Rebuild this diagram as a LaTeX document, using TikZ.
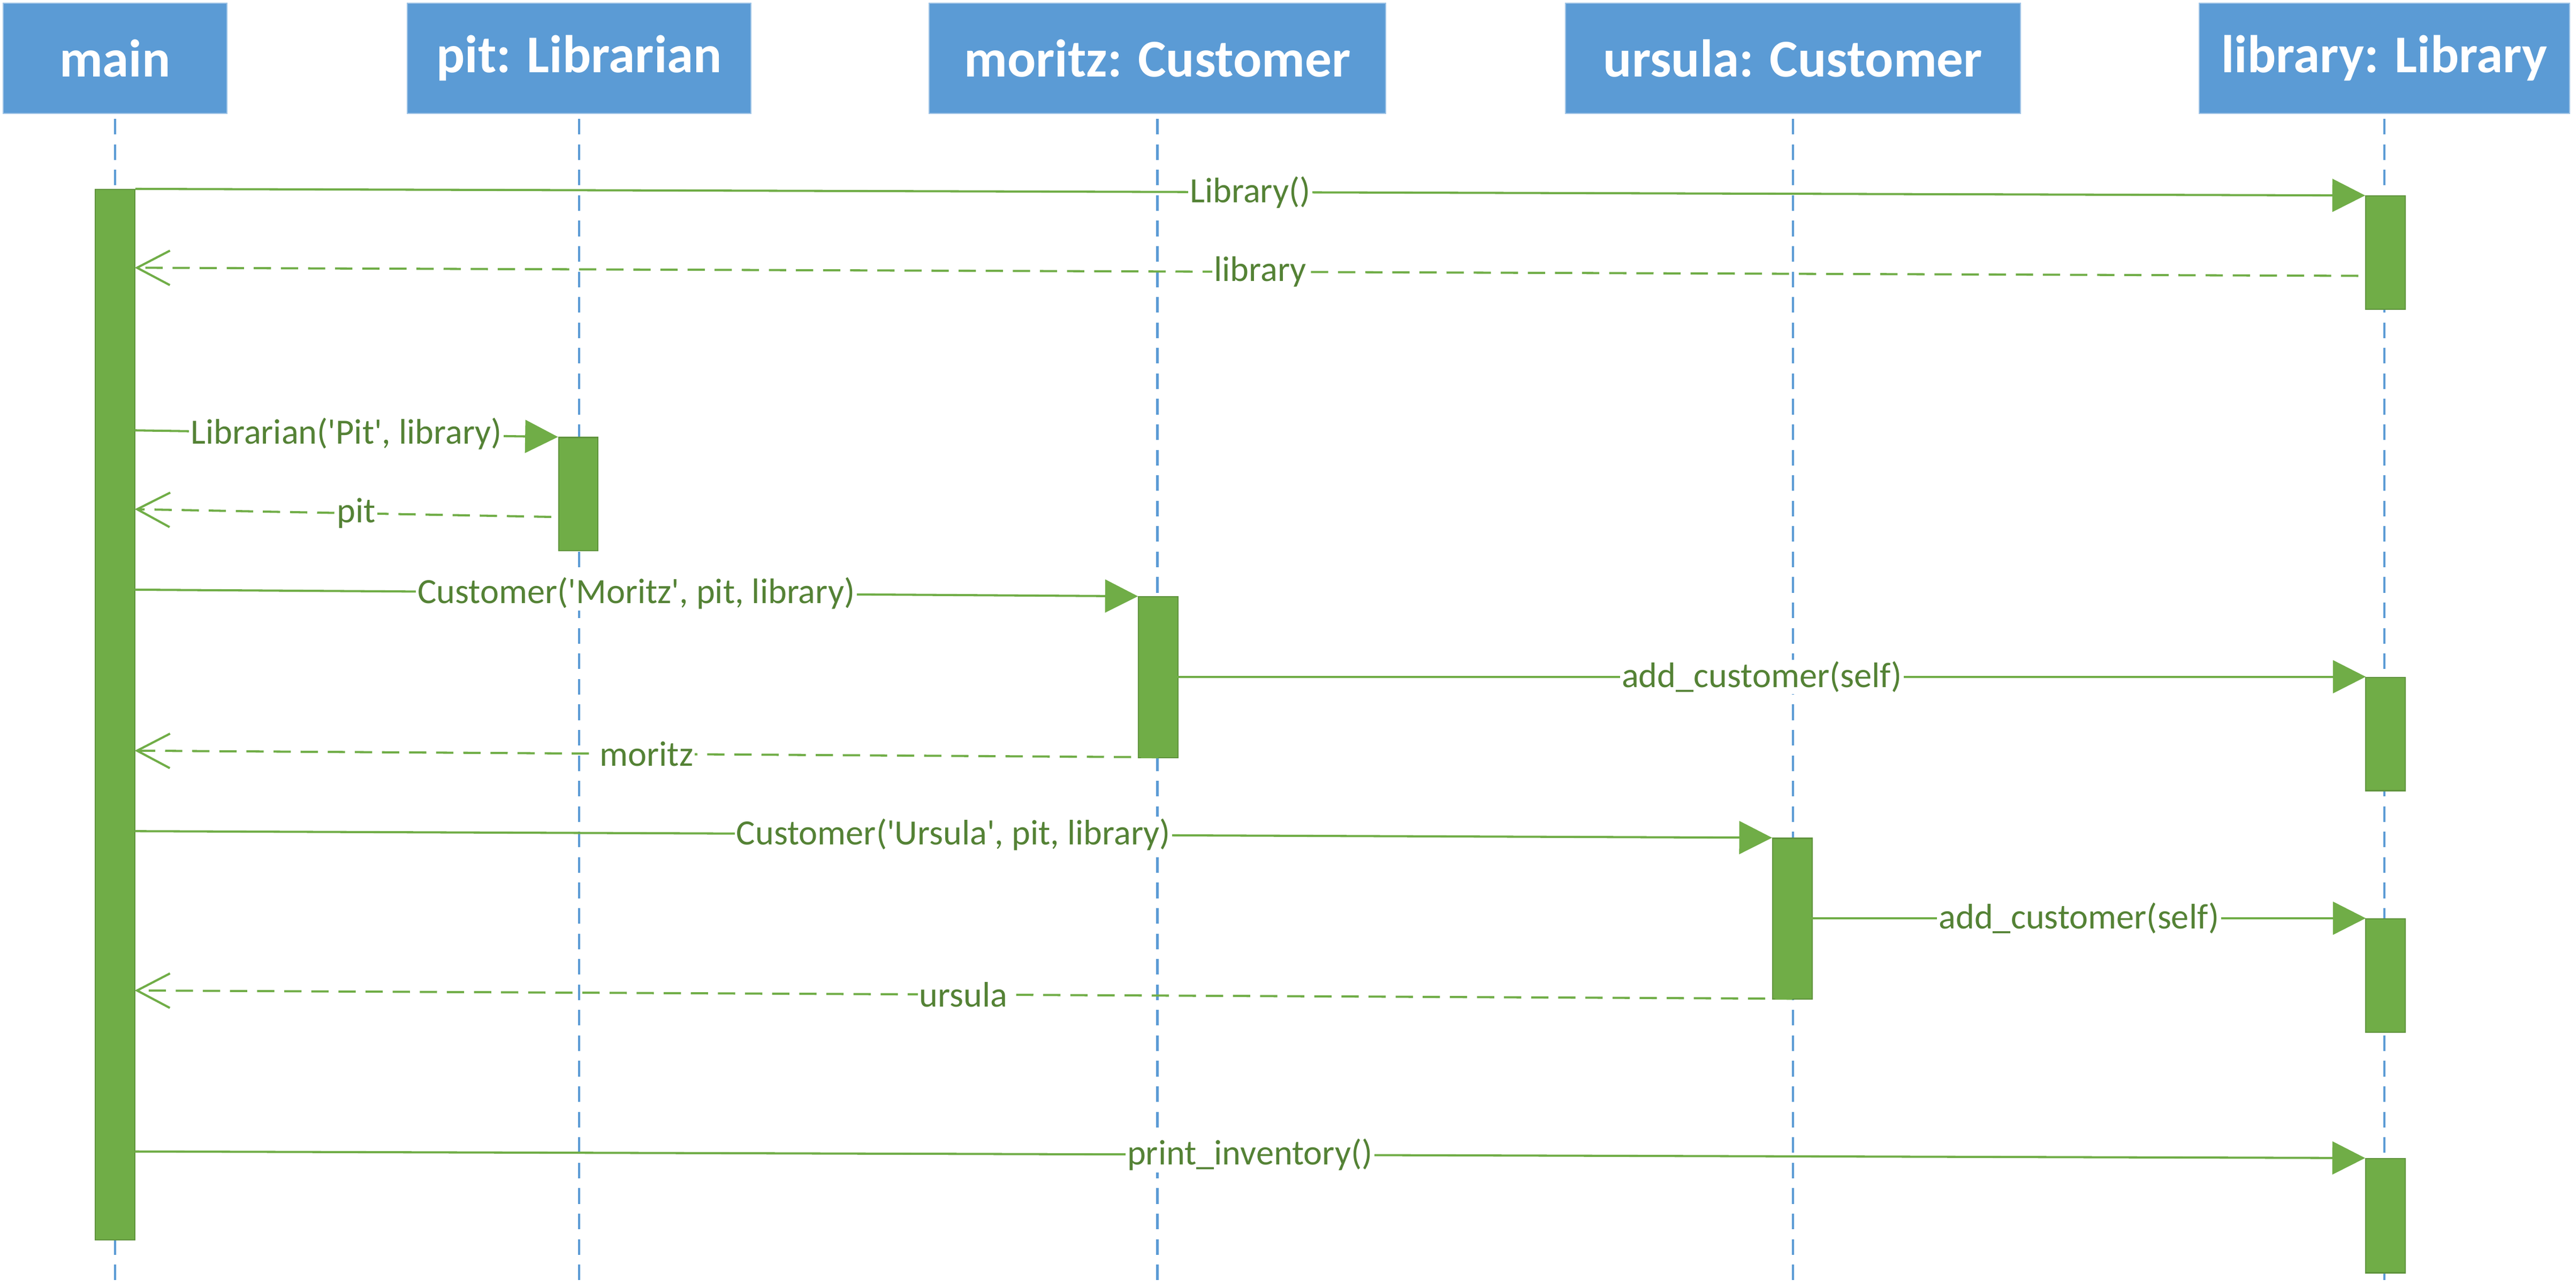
\documentclass[tikz,border=0pt]{standalone}
\usepackage{fontspec}
\setmainfont{Carlito}
\usepackage{tikz}
\usetikzlibrary{arrows.meta}

\definecolor{hdrblue}{HTML}{5B9BD5}
\definecolor{actgreen}{HTML}{70AD47}
\definecolor{msggreen}{HTML}{548235}
\newcommand{\sqt}{\textquotesingle}

\begin{document}
\begin{tikzpicture}[x=0.2mm, y=-0.2mm,
	hdr/.style={draw=hdrblue!60!white, fill=hdrblue, text=white, inner sep=0pt, minimum height=13.4mm, font=\fontsize{18.4}{22}\selectfont\bfseries},
	act/.style={draw=actgreen!85!black, fill=actgreen, inner sep=0pt, minimum width=4.8mm, anchor=north},
	life/.style={draw=hdrblue, line width=0.75pt, dash pattern=on 1.9mm off 1.2mm},
	call/.style={draw=actgreen, line width=0.75pt, -{Triangle[length=4mm,width=4mm]}},
	ret/.style={draw=actgreen, line width=0.75pt, dash pattern=on 2.1mm off 1.2mm, -{Straight Barb[length=4mm,width=4.2mm]}},
	lbl/.style={midway, fill=white, text=msggreen, inner sep=0.6pt, font=\fontsize{12.3}{15}\selectfont}]
	
	\useasboundingbox (0,0) rectangle (1568,783.5);
	
	% lifeline heads
	\node[hdr, minimum width=27.2mm] (main) at (70,35.5) {main};
	\node[hdr, minimum width=41.8mm] (pit) at (352.5,35.5) {pit: Librarian};
	\node[hdr, minimum width=55.6mm] (moritz) at (704.5,35.5) {moritz: Customer};
	\node[hdr, minimum width=55.4mm] (ursula) at (1091.3,35.5) {ursula: Customer};
	\node[hdr, minimum width=45.1mm] (library) at (1451.3,35.5) {library: Library};
	
	\foreach \h in {main,pit,moritz,ursula,library}
	\draw[life] ([yshift=-0.6mm]\h.south) -- ++(0,708);
	
	% activations
	\node[act, minimum height=127.9mm] (mainact) at (70,115) {};
	\node[act, minimum height=13.8mm] (libact1) at (1452,119) {};
	\node[act, minimum height=13.8mm] (pitact) at (352,266) {};
	\node[act, minimum height=19.6mm] (moract) at (705,363) {};
	\node[act, minimum height=13.8mm] (libact2) at (1452,412) {};
	\node[act, minimum height=19.6mm] (ursact) at (1091,510) {};
	\node[act, minimum height=13.8mm] (libact3) at (1452,559) {};
	\node[act, minimum height=13.9mm] (libact4) at (1452,705) {};
	
	% free ends
	\coordinate (r1s) at (1452,168);
	\coordinate (r1e) at (82,163);
	\coordinate (c2s) at (82,262);
	\coordinate (r2s) at (352,315);
	\coordinate (r2e) at (82,310);
	\coordinate (c3s) at (82,359);
	\coordinate (c4s) at (705,412);
	\coordinate (c4e) at (1440,412);
	\coordinate (r3s) at (705,461);
	\coordinate (r3e) at (82,457);
	\coordinate (c5s) at (82,506);
	\coordinate (c6s) at (1091,559);
	\coordinate (c6e) at (1440,559);
	\coordinate (r4s) at (1091,608);
	\coordinate (r4e) at (82,603);
	\coordinate (c7s) at (82,701);
	
	\draw[call] (mainact.north east) -- (libact1.north west) node[lbl] {Library()};
	\draw[ret] (r1s) -- (r1e) node[lbl] {library};
	\draw[call] (c2s) -- (pitact.north west) node[lbl] {Librarian(\sqt Pit\sqt, library)};
	\draw[ret] (r2s) -- (r2e) node[lbl] {pit};
	\draw[call] (c3s) -- (moract.north west) node[lbl] {Customer(\sqt Moritz\sqt, pit, library)};
	\draw[call] (c4s) -- (c4e) node[lbl] {add\_customer(self)};
	\draw[ret] (r3s) -- (r3e) node[lbl] {moritz};
	\draw[call] (c5s) -- (ursact.north west) node[lbl] {Customer(\sqt Ursula\sqt, pit, library)};
	\draw[call] (c6s) -- (c6e) node[lbl] {add\_customer(self)};
	\draw[ret] (r4s) -- (r4e) node[lbl] {ursula};
	\draw[call] (c7s) -- (libact4.north west) node[lbl] {print\_inventory()};
	
\end{tikzpicture}
\end{document}
